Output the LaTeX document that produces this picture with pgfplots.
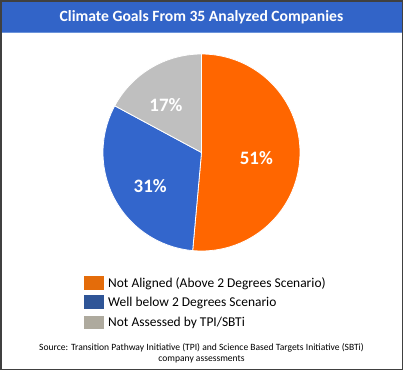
\documentclass[border=0pt]{standalone}
\usepackage{pgfplots}
\pgfplotsset{compat=1.18}
\usepgfplotslibrary{polar}
\usepackage{fontspec}
\setmainfont{Carlito}
\definecolor{banner}{HTML}{3264C8}
\definecolor{bannerline}{HTML}{6B93DA}
\definecolor{pieorange}{HTML}{FF6600}
\definecolor{pieblue}{HTML}{3366CC}
\definecolor{piegray}{HTML}{BFBFBF}
\definecolor{legorange}{HTML}{E46C0A}
\definecolor{legblue}{HTML}{2F5597}
\definecolor{leggray}{HTML}{AEAA9E}
\definecolor{frame}{HTML}{404040}
\begin{document}
\begin{tikzpicture}[x=1bp,y=1bp]
\useasboundingbox (0,0) rectangle (404,371);
% title banner
\fill[banner] (1,339) rectangle (402,370.5);
\draw[bannerline, line width=1.2bp] (1,338.8) -- (402,338.8);
\node[text=white, font=\fontsize{15.7}{18}\selectfont\bfseries] at (201.5,354) {Climate Goals From 35 Analyzed Companies};
% pie: 18, 11 and 6 of 35 companies -> 185.14, 113.14, 61.71 degrees, clockwise from the top
\begin{polaraxis}[hide axis, scale only axis, width=197bp, height=197bp,
  ymin=0, ymax=1, at={(201.5bp,218.5bp)}, anchor=center, clip=false]
\addplot[fill=pieorange, draw=white, line width=0.8pt, domain=-95.14:90, samples=120] {1} -- (axis cs:0,0) -- cycle;
\addplot[fill=pieblue, draw=white, line width=0.8pt, domain=-208.29:-95.14, samples=80] {1} -- (axis cs:0,0) -- cycle;
\addplot[fill=piegray, draw=white, line width=0.8pt, domain=-270:-208.29, samples=50] {1} -- (axis cs:0,0) -- cycle;
\node[text=white, font=\fontsize{19}{22}\selectfont\bfseries] at (axis cs:-6,0.56) {51\%};
\node[text=white, font=\fontsize{19}{22}\selectfont\bfseries] at (axis cs:-147.2,0.62) {31\%};
\node[text=white, font=\fontsize{19}{22}\selectfont\bfseries] at (axis cs:127,0.60) {17\%};
\end{polaraxis}
% legend
\fill[legorange] (83.5,81) rectangle (103.5,94.5);
\fill[legblue] (83.5,62) rectangle (103.5,75.5);
\fill[leggray] (83.5,41.5) rectangle (103.5,55);
\begin{scope}[every node/.style={anchor=west, inner sep=0pt, font=\fontsize{13.5}{16}\selectfont}]
\node at (108,87.7) {Not Aligned (Above 2 Degrees Scenario)};
\node at (108,68.5) {Well below 2 Degrees Scenario};
\node at (108,48) {Not Assessed by TPI/SBTi};
\end{scope}
\node[align=center, font=\fontsize{9.6}{11.5}\selectfont, inner sep=0pt] at (201.5,17.5) {Source: Transition Pathway Initiative (TPI) and Science Based Targets Initiative (SBTi)\\company assessments};
% frame
\draw[frame, line width=1.6bp] (0.8,1.5) rectangle (402.3,370.2);
\end{tikzpicture}
\end{document}
